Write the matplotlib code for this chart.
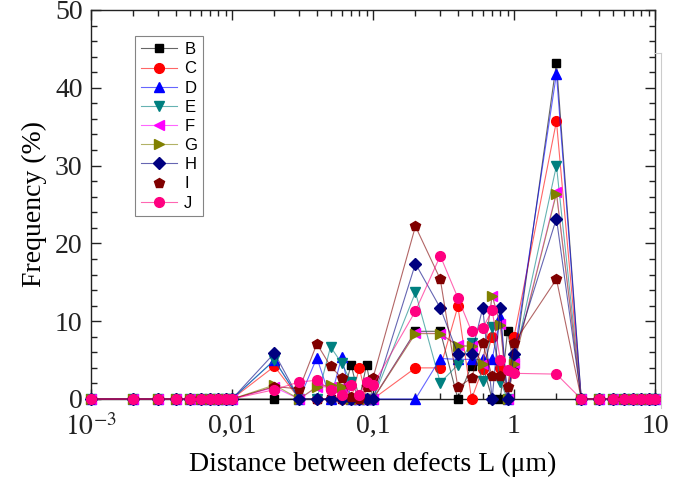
import numpy as np
import matplotlib
matplotlib.use("Agg")
from matplotlib import pyplot as plt
from matplotlib.lines import Line2D
from matplotlib.ticker import FixedLocator, FixedFormatter, LogLocator, MultipleLocator
import matplotlib.colors as mcolors

matplotlib.rcParams['font.family'] = 'Liberation Serif'
matplotlib.rcParams['mathtext.fontset'] = 'stix'

# distance between defects (um)
L = ([0.001, 0.002, 0.003, 0.004, 0.005, 0.006, 0.007, 0.008, 0.009,
      0.01, 0.02, 0.03, 0.04, 0.05, 0.06, 0.07, 0.08, 0.09,
      0.1, 0.2, 0.3, 0.4, 0.5, 0.6, 0.7, 0.8, 0.9,
      1, 2, 3, 4, 5, 6, 7, 8, 9, 10])

zeros_lo = [0] * 10   # 0.001 .. 0.01
zeros_hi = [0] * 8    # 3 .. 10

# values from 0.02 to 2
B = zeros_lo + [0, 0, 0, 0, 0, 4.4, 0, 4.4, 0, 8.7, 8.7, 0, 4.3, 4.3, 0, 0, 8.7, 4.3, 43.2] + zeros_hi
C = zeros_lo + [4.2, 0, 0, 0, 0, 0, 4.0, 0, 0, 4.0, 4.0, 11.9, 0, 3.9, 8.0, 4.0, 0, 8.0, 35.7] + zeros_hi
D = zeros_lo + [5.0, 0, 5.3, 0, 5.4, 0, 0, 0, 0, 0, 5.2, 5.1, 5.1, 5.1, 5.1, 10.5, 0, 5.5, 41.8] + zeros_hi
E = zeros_lo + [5.0, 0, 0, 6.7, 4.6, 2.2, 0, 0, 0, 13.7, 2.1, 4.4, 7.2, 2.3, 9.3, 2.2, 0, 4.7, 30.0] + zeros_hi
F = zeros_lo + [1.5, 0, 1.5, 1.6, 1.5, 0, 0, 0, 0, 8.5, 8.4, 6.9, 6.8, 4.5, 13.3, 9.6, 0, 4.6, 26.6] + zeros_hi
G = zeros_lo + [1.8, 0, 1.6, 1.8, 1.6, 0, 0, 0, 0, 8.4, 8.4, 6.8, 6.8, 4.5, 13.3, 9.5, 0, 4.5, 26.4] + zeros_hi
H = zeros_lo + [5.9, 0, 0, 0, 0, 0, 0, 0, 0, 17.4, 11.7, 5.8, 5.8, 11.7, 0, 11.7, 0, 5.8, 23.2] + zeros_hi
I = zeros_lo + [1.6, 1.3, 7.1, 4.2, 2.7, 0.2, 0, 1.5, 2.7, 22.2, 15.4, 1.5, 2.7, 7.2, 2.9, 2.9, 1.5, 7.2, 15.4] + zeros_hi
J = zeros_lo + [1.2, 2.2, 2.4, 1.2, 0.5, 1.8, 0.5, 2.2, 1.8, 11.3, 18.4, 13.0, 8.7, 9.1, 11.4, 5.0, 3.7, 3.3, 3.2] + zeros_hi

names = ["B", "C", "D", "E", "F", "G", "H", "I", "J"]
series = [B, C, D, E, F, G, H, I, J]
colors = ["#000000", "#ff0000", "#0000ff", "#008080", "#ff00ff",
          "#808000", "#000080", "#800000", "#ff0080"]
markers = ["s", "o", "^", "v", "<", ">", "D", "p", "o"]
sizes = [6, 7, 7, 7, 7, 7, 6, 7, 7]

fig = plt.figure(figsize=(6.92, 4.84), dpi=100)
ax = fig.add_axes([91 / 692, 1 - 399 / 484, 564 / 692, 389 / 484])

handles = []
for name, y, c, m, s in zip(names, series, colors, markers, sizes):
    lc = mcolors.to_rgba(c, 0.6)
    ax.plot(L, y, color=lc, lw=0.8, marker=m, ms=s, mfc=c, mec=c,
            clip_on=False, zorder=3)
    if name == "I":
        h = Line2D([], [], ls="none", marker=m, ms=s, mfc=c, mec=c)
    else:
        h = Line2D([], [], color=lc, lw=0.8, marker=m, ms=s, mfc=c, mec=c)
    handles.append(h)

ax.set_xscale("log")
ax.set_xlim(1e-3, 10)
ax.set_ylim(0, 50)

ax.xaxis.set_major_locator(FixedLocator([1e-3, 1e-2, 1e-1, 1, 10]))
ax.xaxis.set_major_formatter(FixedFormatter([r"$10^{-3}$", "0,01", "0,1", "1", "10"]))
ax.xaxis.set_minor_locator(LogLocator(base=10, subs=np.arange(2, 10)))
ax.xaxis.set_minor_formatter(FixedFormatter([]))
ax.yaxis.set_major_locator(MultipleLocator(10))
ax.yaxis.set_minor_locator(MultipleLocator(2))

ax.tick_params(which="both", direction="in", top=True, right=True, width=1.0,
               labelsize=20, colors="#222222")
ax.tick_params(which="major", length=7)
ax.tick_params(which="minor", length=4)
ax.tick_params(axis="x", pad=11)
ax.tick_params(axis="y", pad=6)
for sp in ax.spines.values():
    sp.set_linewidth(1.0)
    sp.set_color("#222222")

ax.set_xlabel("Distance between defects L (μm)", fontsize=20, labelpad=8)
ax.set_ylabel("Frequency (%)", fontsize=20, labelpad=6)

leg = ax.legend(handles, names, loc="upper left", bbox_to_anchor=(0.078, 0.932),
                prop={"family": "Liberation Sans", "size": 12},
                frameon=True, fancybox=False, edgecolor="#666666",
                handlelength=2.2, handletextpad=0.4, labelspacing=0.25,
                borderpad=0.35, borderaxespad=0)
leg.get_frame().set_linewidth(0.8)

# faint frame remnant at the right side
fig.add_artist(Line2D([655 / 692, 661 / 692], [1 - 53 / 484, 1 - 53 / 484],
                      color="#cccccc", lw=0.8))
fig.add_artist(Line2D([661 / 692, 661 / 692], [1 - 53 / 484, 1 - 408 / 484],
                      color="#cccccc", lw=0.8))

plt.savefig("out.png", dpi=100)
